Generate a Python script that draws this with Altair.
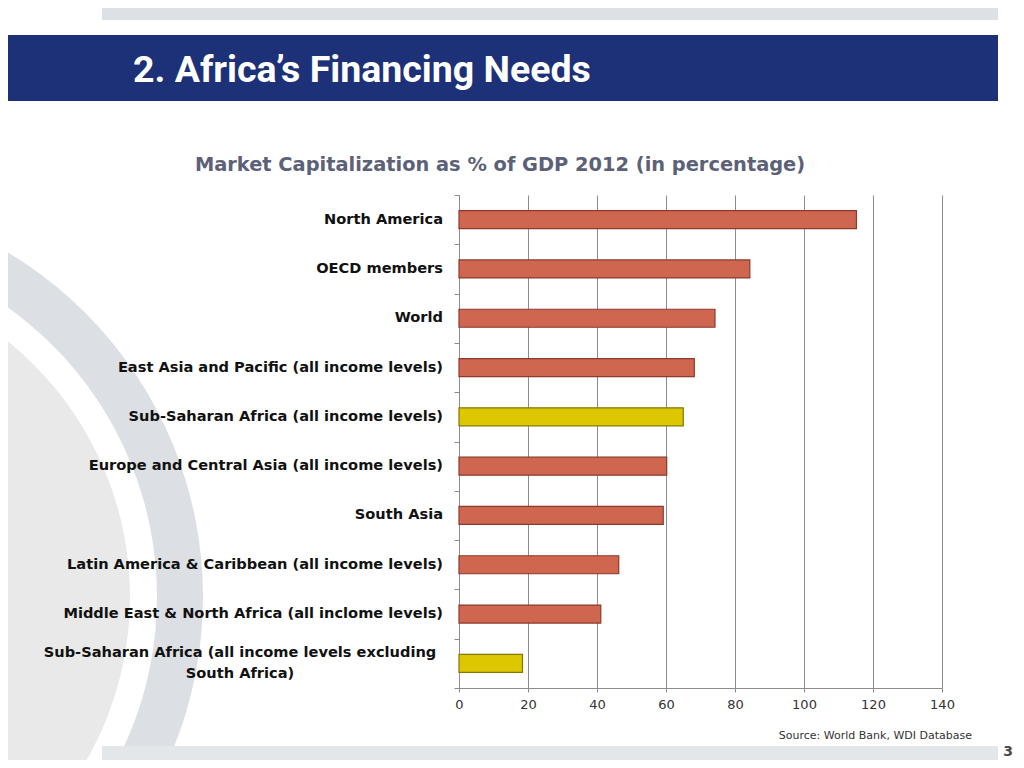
import altair as alt
import pandas as pd

# ---- data ----
regions = [
    "North America",
    "OECD members",
    "World",
    "East Asia and Pacific (all income levels)",
    "Sub-Saharan Africa (all income levels)",
    "Europe and Central Asia (all income levels)",
    "South Asia",
    "Latin America & Caribbean (all income levels)",
    "Middle East & North Africa (all inclome levels)",
    "Sub-Saharan Africa (all income levels excluding South Africa)",
]
labels = [
    "North America",
    "OECD members\u00a0",
    "World\u00a0",
    "East Asia and Pacific (all income levels)\u00a0",
    "Sub-Saharan Africa (all income levels)\u00a0",
    "Europe and Central Asia (all income levels)",
    "South Asia",
    "Latin America & Caribbean (all income levels)",
    "Middle East & North Africa (all inclome levels)",
    "Sub-Saharan Africa (all income levels excluding\nSouth Africa)",
]
values = [115.2, 84.3, 74.2, 68.2, 65.0, 60.2, 59.2, 46.3, 41.1, 18.4]
groups = ["Other", "Other", "Other", "Other", "Africa", "Other", "Other", "Other", "Other", "Africa"]
x_ticks = [0, 20, 40, 60, 80, 100, 120, 140]

df = pd.DataFrame({"region": regions, "label": labels, "value": values, "group": groups,
                   "multi": [0] * 9 + [1]})

W, H = 483, 493
GRID = "#8c8c8c"
LABEL_FONT = "DejaVu Sans"
LABEL_SIZE = 14.6

one = alt.Data(values=[{"k": 1}])

y_enc = alt.Y("region:N", sort=regions, title=None,
              scale=alt.Scale(paddingInner=0, paddingOuter=0),
              axis=alt.Axis(labels=False, ticks=True, tickBand="extent", tickSize=5,
                            tickColor=GRID, domainColor=GRID, grid=False))

# ---- decorations (slide background) ----
def circle(r, color):
    return alt.Chart(one).mark_point(filled=True, shape="circle", opacity=1, strokeWidth=0,
                                     color=color).encode(
        x=alt.value(-657.5), y=alt.value(402), size=alt.value(4 * r * r))

def rect(x1, x2, y1, y2, color):
    return alt.Chart(one).mark_rect(color=color).encode(
        x=alt.value(x1), x2=alt.value(x2), y=alt.value(y1), y2=alt.value(y2))

ring_outer = circle(401.5, "#dcdfe3")
ring_gap = circle(355.5, "#ffffff")
disc = circle(328.5, "#e9e9e9")

top_strip = rect(-357, 539, -200, -175, "#dde1e6")
banner = rect(-459, 539, -160, -94, "#1c3177")
bottom_strip = rect(-357, 539, 551, 580, "#e4e7e9")

banner_text = alt.Chart(one).mark_text(
    text="2.  Africa\u2019s Financing Needs", align="left", baseline="alphabetic",
    font="Roboto", fontWeight="bold",
    fontSize=37.5, color="#ffffff").encode(x=alt.value(-326), y=alt.value(-113))

page_num = alt.Chart(one).mark_text(
    text="3", align="center", baseline="middle", font="DejaVu Sans", fontWeight="bold",
    fontSize=14, color="#4a4a4a").encode(x=alt.value(549), y=alt.value(557))

chart_title = alt.Chart(one).mark_text(
    text="Market Capitalization as % of GDP 2012 (in percentage)", align="center",
    baseline="middle", font=LABEL_FONT, fontWeight="bold", fontSize=19.4,
    color="#5c6178").encode(x=alt.value(41), y=alt.value(-30))

source = alt.Chart(one).mark_text(
    text="Source: World Bank, WDI Database", align="right", baseline="middle",
    font=LABEL_FONT, fontSize=11, color="#333333").encode(x=alt.value(513), y=alt.value(541))

# ---- chart ----
bars = alt.Chart(df).mark_bar(height=18, strokeWidth=1.2).encode(
    x=alt.X("value:Q", title=None,
            scale=alt.Scale(domain=[0, 140], nice=False, zero=True),
            axis=alt.Axis(values=x_ticks, grid=True, gridColor=GRID, gridOpacity=1,
                          domainColor=GRID, tickColor=GRID, tickSize=4, labelFlush=False,
                          labelFont=LABEL_FONT, labelFontSize=13, labelColor="#333333",
                          labelPadding=6)),
    y=y_enc,
    fill=alt.Fill("group:N", scale=alt.Scale(domain=["Other", "Africa"],
                                             range=["#cf6650", "#dcc700"]), legend=None),
    stroke=alt.Stroke("group:N", scale=alt.Scale(domain=["Other", "Africa"],
                                                 range=["#8a3b2c", "#857600"]), legend=None),
)

cat_labels = alt.Chart(df).transform_filter("datum.multi == 0").mark_text(
    align="right", baseline="middle", font=LABEL_FONT, fontWeight="bold", fontSize=LABEL_SIZE,
    color="#111111").encode(x=alt.value(-16), y=y_enc, text="label:N")

multi_label = alt.Chart(df).transform_filter("datum.multi == 1").mark_text(
    align="center", baseline="middle", font=LABEL_FONT, fontWeight="bold", fontSize=LABEL_SIZE,
    lineBreak="\n", lineHeight=21, dy=-10, color="#111111").encode(
    x=alt.value(-219), y=y_enc, text="label:N")

chart = alt.layer(
    ring_outer, ring_gap, disc, top_strip, banner, bottom_strip,
    banner_text, page_num, chart_title, source,
    bars, cat_labels, multi_label,
).properties(
    width=W, height=H,
    autosize=alt.AutoSizeParams(type="none"),
    padding={"left": 451, "top": 187, "right": 74, "bottom": 72},
).configure_view(stroke=None)

chart.save("out.html", embed_options={"renderer": "svg", "actions": False})
